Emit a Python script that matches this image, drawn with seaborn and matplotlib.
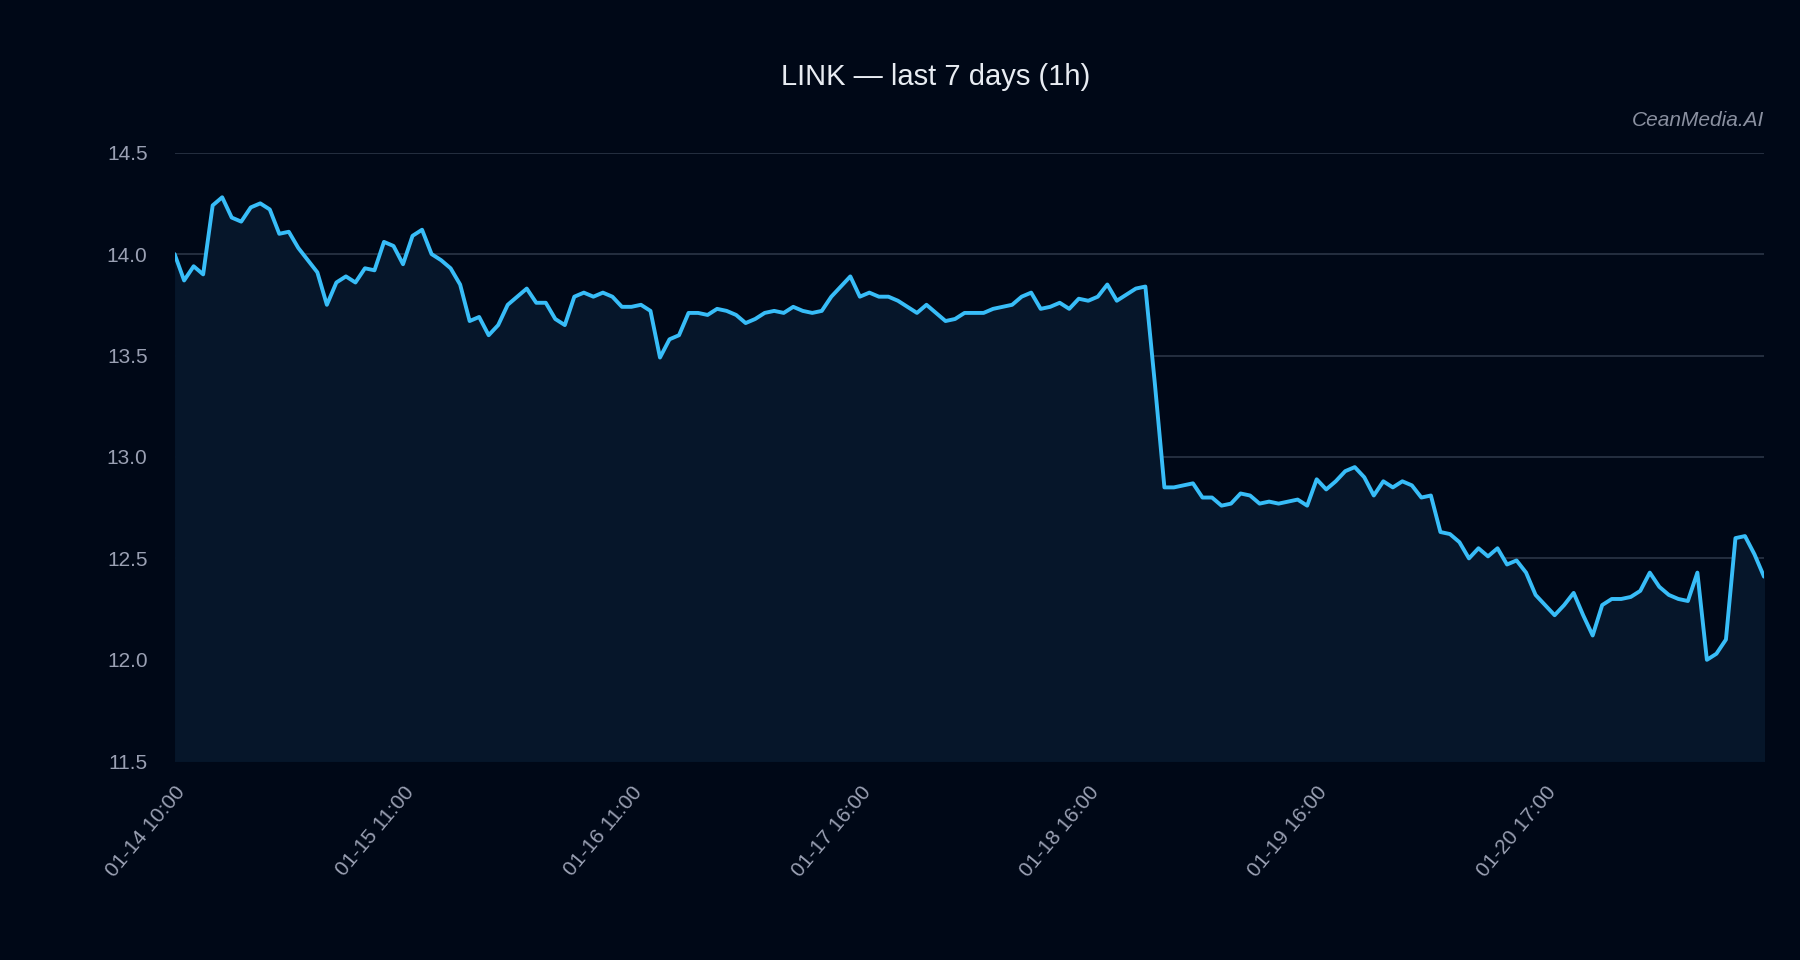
import matplotlib
matplotlib.use("Agg")
import matplotlib.pyplot as plt
import seaborn as sns
import numpy as np
import pandas as pd

prices = [14.00,13.87,13.94,13.90,14.24,14.28,14.18,14.16,14.23,14.25,14.22,14.10,14.11,14.03,13.97,13.91,
13.75,13.86,13.89,13.86,13.93,13.92,14.06,14.04,13.95,14.09,14.12,14.00,13.97,13.93,13.85,13.67,13.69,13.60,
13.65,13.75,13.79,13.83,13.76,13.76,13.68,13.65,13.79,13.81,13.79,13.81,13.79,13.74,13.74,13.75,13.72,13.49,
13.58,13.60,13.71,13.71,13.70,13.73,13.72,13.70,13.66,13.68,13.71,13.72,13.71,13.74,13.72,13.71,13.72,13.79,
13.84,13.89,13.79,13.81,13.79,13.79,13.77,13.74,13.71,13.75,13.71,13.67,13.68,13.71,13.71,13.71,13.73,13.74,
13.75,13.79,13.81,13.73,13.74,13.76,13.73,13.78,13.77,13.79,13.85,13.77,13.80,13.83,13.84,13.36,12.85,12.85,
12.86,12.87,12.80,12.80,12.76,12.77,12.82,12.81,12.77,12.78,12.77,12.78,12.79,12.76,12.89,12.84,12.88,12.93,
12.95,12.90,12.81,12.88,12.85,12.88,12.86,12.80,12.81,12.63,12.62,12.58,12.50,12.55,12.51,12.55,12.47,12.49,
12.43,12.32,12.27,12.22,12.27,12.33,12.22,12.12,12.27,12.30,12.30,12.31,12.34,12.43,12.36,12.32,12.30,12.29,
12.43,12.00,12.03,12.10,12.60,12.61,12.52,12.41]
tick_labels = ["01-14 10:00","01-15 11:00","01-16 11:00","01-17 16:00","01-18 16:00","01-19 16:00","01-20 17:00"]
tick_idx = [0,24,48,72,96,120,144]
yticks = [11.5,12.0,12.5,13.0,13.5,14.0,14.5]

df = pd.DataFrame({"i": np.arange(len(prices)), "price": prices})

bg = "#000817"
sns.set_theme(style="dark")
plt.rcParams['font.family'] = ['Liberation Sans', 'DejaVu Sans']
fig = plt.figure(figsize=(18, 9.6), dpi=100, facecolor=bg)
ax = fig.add_axes([0.097, 0.207, 0.883, 0.634])
ax.set_facecolor(bg)
ax.fill_between(df["i"], df["price"], 11.5, color="#06162a", zorder=1)
sns.lineplot(data=df, x="i", y="price", ax=ax, color="#38bdf8", linewidth=2.8, zorder=3)
ax.set_xlim(0, len(prices) - 1)
ax.set_ylim(11.5, 14.5)
ax.set_yticks(yticks)
ax.set_yticklabels([f"{v:.1f}" for v in yticks])
ax.set_xticks(tick_idx)
ax.set_xticklabels(tick_labels, rotation=50, ha="right", rotation_mode="anchor")
ax.grid(axis="y", color="#2b3547", linewidth=1.2)
ax.grid(axis="x", visible=False)
ax.tick_params(axis="both", colors="#9aa0b3", labelsize=15, length=12, width=1, color="#2b3547")
ax.tick_params(axis="y", length=16)
for s in ax.spines.values():
    s.set_visible(False)
ax.set_xlabel("")
ax.set_ylabel("")
fig.text(0.52, 0.92, "LINK — last 7 days (1h)", color="#e8ecf2", fontsize=21, ha="center", va="center")
fig.text(0.98, 0.875, "CeanMedia.AI", color="#8a90a0", fontsize=15, style="italic", ha="right", va="center")
fig.savefig("out.png", dpi=100, facecolor=bg)
